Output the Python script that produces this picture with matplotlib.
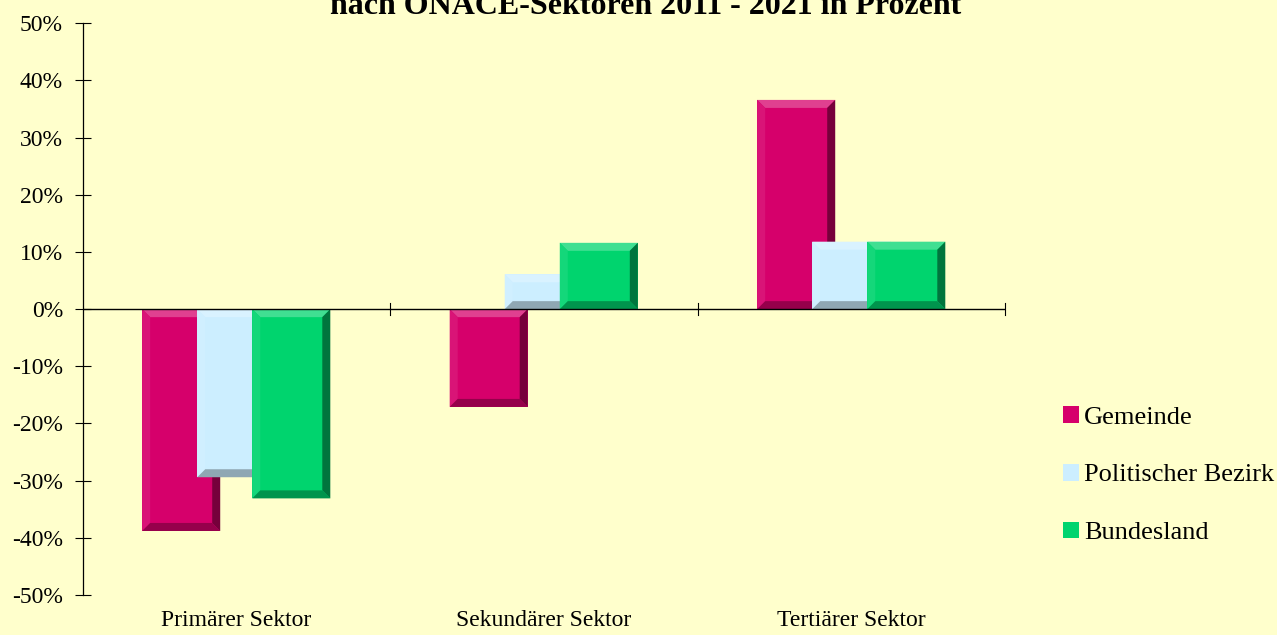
import matplotlib
matplotlib.use("Agg")
import matplotlib.pyplot as plt
from matplotlib.ticker import FuncFormatter, MultipleLocator
from matplotlib.patches import Polygon
import matplotlib.colors as mcolors
import numpy as np

categories = ["Primärer Sektor", "Sekundärer Sektor", "Tertiärer Sektor"]
series_names = ["Gemeinde", "Politischer Bezirk", "Bundesland"]
gemeinde = [-38.8, -17.1, 36.6]
bezirk = [-29.4, 6.1, 11.8]
bundesland = [-33.1, 11.6, 11.8]
title = "nach ÖNACE-Sektoren 2011 - 2021 in Prozent"

colors = ["#D6006B", "#CCEEFF", "#00D46E"]
bg = "#FFFFCC"

plt.rcParams['font.family'] = ['Liberation Serif', 'DejaVu Serif']

W, H = 1277, 635
fig = plt.figure(figsize=(W / 100, H / 100), dpi=100, facecolor=bg)
x0, x1, ytop, ybot = 82.5, 1005, 23.3, 595
ax = fig.add_axes([x0 / W, (H - ybot) / H, (x1 - x0) / W, (ybot - ytop) / H])
ax.set_facecolor(bg)
ax.set_xlim(-0.5, 2.5)
ax.set_ylim(-50, 50)

# pixel -> data scale for the bevel decoration
px_x = 3.0 / (x1 - x0)
px_y = 100.0 / (ybot - ytop)


def shade(c, f):
    r, g, b = mcolors.to_rgb(c)
    if f >= 0:
        return (r + (1 - r) * f, g + (1 - g) * f, b + (1 - b) * f)
    return (r * (1 + f), g * (1 + f), b * (1 + f))


x = np.arange(len(categories))
width = 0.2537
offset = 0.179
for i, (vals, name) in enumerate(zip([gemeinde, bezirk, bundesland], series_names)):
    bars = ax.bar(x + (i - 1) * offset, vals, width, color=colors[i], edgecolor='none',
                  label=name, zorder=2 + 2 * i)
    for p in bars:
        bx, by, bw, bh = p.get_x(), p.get_y(), p.get_width(), p.get_height()
        if bh < 0:
            by, bh = by + bh, -bh
        dx = min(8 * px_x, bw / 2)
        dy = min(8 * px_y, bh / 2)
        L, R, B, T = bx, bx + bw, by, by + bh
        faces = [
            ([(L, T), (R, T), (R - dx, T - dy), (L + dx, T - dy)], 0.25),
            ([(L, B), (L, T), (L + dx, T - dy), (L + dx, B + dy)], 0.08),
            ([(R, B), (R, T), (R - dx, T - dy), (R - dx, B + dy)], -0.45),
            ([(L, B), (R, B), (R - dx, B + dy), (L + dx, B + dy)], -0.3),
        ]
        for pts, f in faces:
            ax.add_patch(Polygon(pts, closed=True, facecolor=shade(colors[i], f),
                                 edgecolor='none', zorder=3 + 2 * i))

ax.yaxis.set_major_locator(MultipleLocator(10))
ax.yaxis.set_major_formatter(FuncFormatter(lambda v, p: f"{int(round(v))}%"))
ax.tick_params(axis='y', direction='inout', length=12, width=0.8, labelsize=17, pad=8)
ax.set_xticks(x)
ax.set_xticklabels(categories)
ax.tick_params(axis='x', length=0, labelsize=17, pad=10.5)

for s in ['top', 'right', 'bottom']:
    ax.spines[s].set_visible(False)
ax.spines['left'].set_linewidth(0.9)
ax.axhline(0, color='black', linewidth=1.0, zorder=10)
for b in [0.5, 1.5, 2.5]:
    ax.plot([b, b], [-1.0, 1.0], color='black', linewidth=0.8, zorder=10, clip_on=False)

handles, labels = ax.get_legend_handles_labels()
leg = fig.legend(handles, labels, loc='upper left', bbox_to_anchor=(1063 / W, 1 - 406 / H),
                 frameon=False, fontsize=19, handlelength=0.6, handleheight=0.6,
                 handletextpad=0.2, labelspacing=1.33, borderaxespad=0, borderpad=0)

fig.text(646 / W, 1 - 14 / H, title, ha='center', va='baseline', fontsize=23,
         fontweight='bold')

fig.savefig("out.png", dpi=100, facecolor=bg)
